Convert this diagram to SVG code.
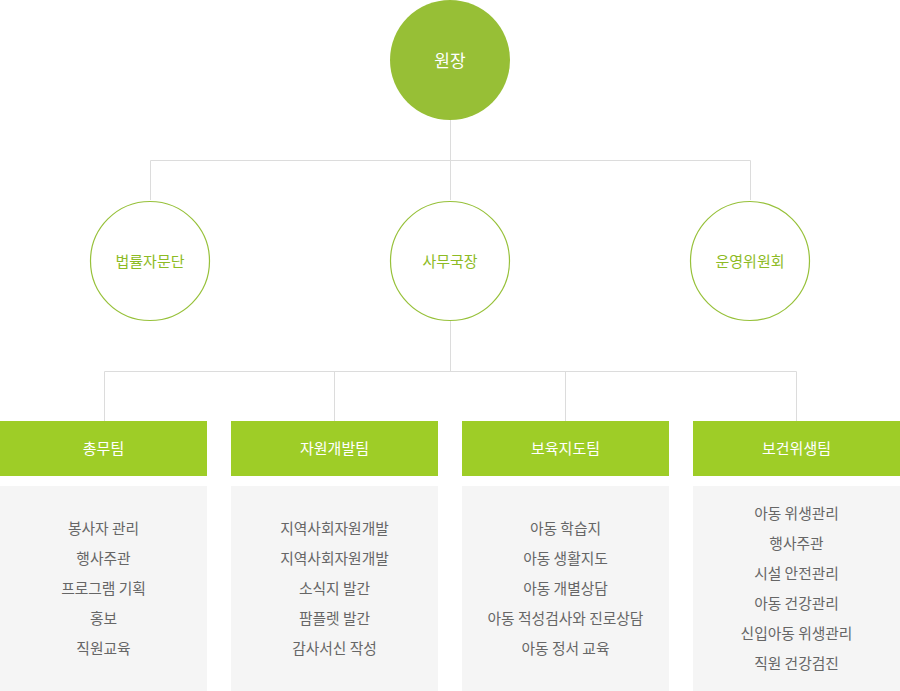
<svg xmlns="http://www.w3.org/2000/svg" width="900" height="691" viewBox="0 0 900 691">
<style>
.ln{stroke:#dcdcdc;stroke-width:1;fill:none}
.t{font-family:"Noto Sans CJK KR","Noto Sans",sans-serif;text-anchor:middle;dominant-baseline:central}
.top{fill:#97bf36}
.top-t{fill:#ffffff;font-size:17px}
.mid{fill:#ffffff;stroke:#97c13a;stroke-width:1.2}
.mid-t{fill:#8dbb25;font-size:15px}
.hd{fill:#9ecd27}
.hd-t{fill:#ffffff;font-size:15px}
.bx{fill:#f5f5f5}
.it{fill:#666666;font-size:14.75px}
</style>
<rect width="900" height="691" fill="#ffffff"/>
<g id="connectors">
<path class="ln" d="M450.5 120V160.5M150.5 200V160.5H750.5V200M450.5 160.5V200"/>
<path class="ln" d="M450.5 321V371.5M104.5 421V371.5H796.5V421M334.5 371.5V421M565.5 371.5V421"/>
</g>
<g id="n-director"><circle class="top" cx="450" cy="60" r="60"/><text class="t top-t" x="450" y="59">원장</text></g>
<g id="n-legal"><circle class="mid" cx="150" cy="261" r="59.5"/><text class="t mid-t" x="150" y="260">법률자문단</text></g>
<g id="n-secretary"><circle class="mid" cx="450" cy="261" r="59.5"/><text class="t mid-t" x="450" y="260">사무국장</text></g>
<g id="n-committee"><circle class="mid" cx="750" cy="261" r="59.5"/><text class="t mid-t" x="750" y="260">운영위원회</text></g>
<g id="n-general">
<rect class="hd" x="0" y="421" width="207" height="55"/><text class="t hd-t" x="103.5" y="447">총무팀</text>
<rect class="bx" x="0" y="486" width="207" height="205"/>
<text class="t it" x="103.5" y="527">봉사자 관리</text>
<text class="t it" x="103.5" y="557">행사주관</text>
<text class="t it" x="103.5" y="587">프로그램 기획</text>
<text class="t it" x="103.5" y="617">홍보</text>
<text class="t it" x="103.5" y="647">직원교육</text>
</g>
<g id="n-resource">
<rect class="hd" x="231" y="421" width="207" height="55"/><text class="t hd-t" x="334.5" y="447">자원개발팀</text>
<rect class="bx" x="231" y="486" width="207" height="205"/>
<text class="t it" x="334.5" y="527">지역사회자원개발</text>
<text class="t it" x="334.5" y="557">지역사회자원개발</text>
<text class="t it" x="334.5" y="587">소식지 발간</text>
<text class="t it" x="334.5" y="617">팜플렛 발간</text>
<text class="t it" x="334.5" y="647">감사서신 작성</text>
</g>
<g id="n-care">
<rect class="hd" x="462" y="421" width="207" height="55"/><text class="t hd-t" x="565.5" y="447">보육지도팀</text>
<rect class="bx" x="462" y="486" width="207" height="205"/>
<text class="t it" x="565.5" y="527">아동 학습지</text>
<text class="t it" x="565.5" y="557">아동 생활지도</text>
<text class="t it" x="565.5" y="587">아동 개별상담</text>
<text class="t it" x="565.5" y="617">아동 적성검사와 진로상담</text>
<text class="t it" x="565.5" y="647">아동 정서 교육</text>
</g>
<g id="n-health">
<rect class="hd" x="693" y="421" width="207" height="55"/><text class="t hd-t" x="796.5" y="447">보건위생팀</text>
<rect class="bx" x="693" y="486" width="207" height="205"/>
<text class="t it" x="796.5" y="512">아동 위생관리</text>
<text class="t it" x="796.5" y="542">행사주관</text>
<text class="t it" x="796.5" y="572">시설 안전관리</text>
<text class="t it" x="796.5" y="602">아동 건강관리</text>
<text class="t it" x="796.5" y="632">신입아동 위생관리</text>
<text class="t it" x="796.5" y="662">직원 건강검진</text>
</g>
</svg>
